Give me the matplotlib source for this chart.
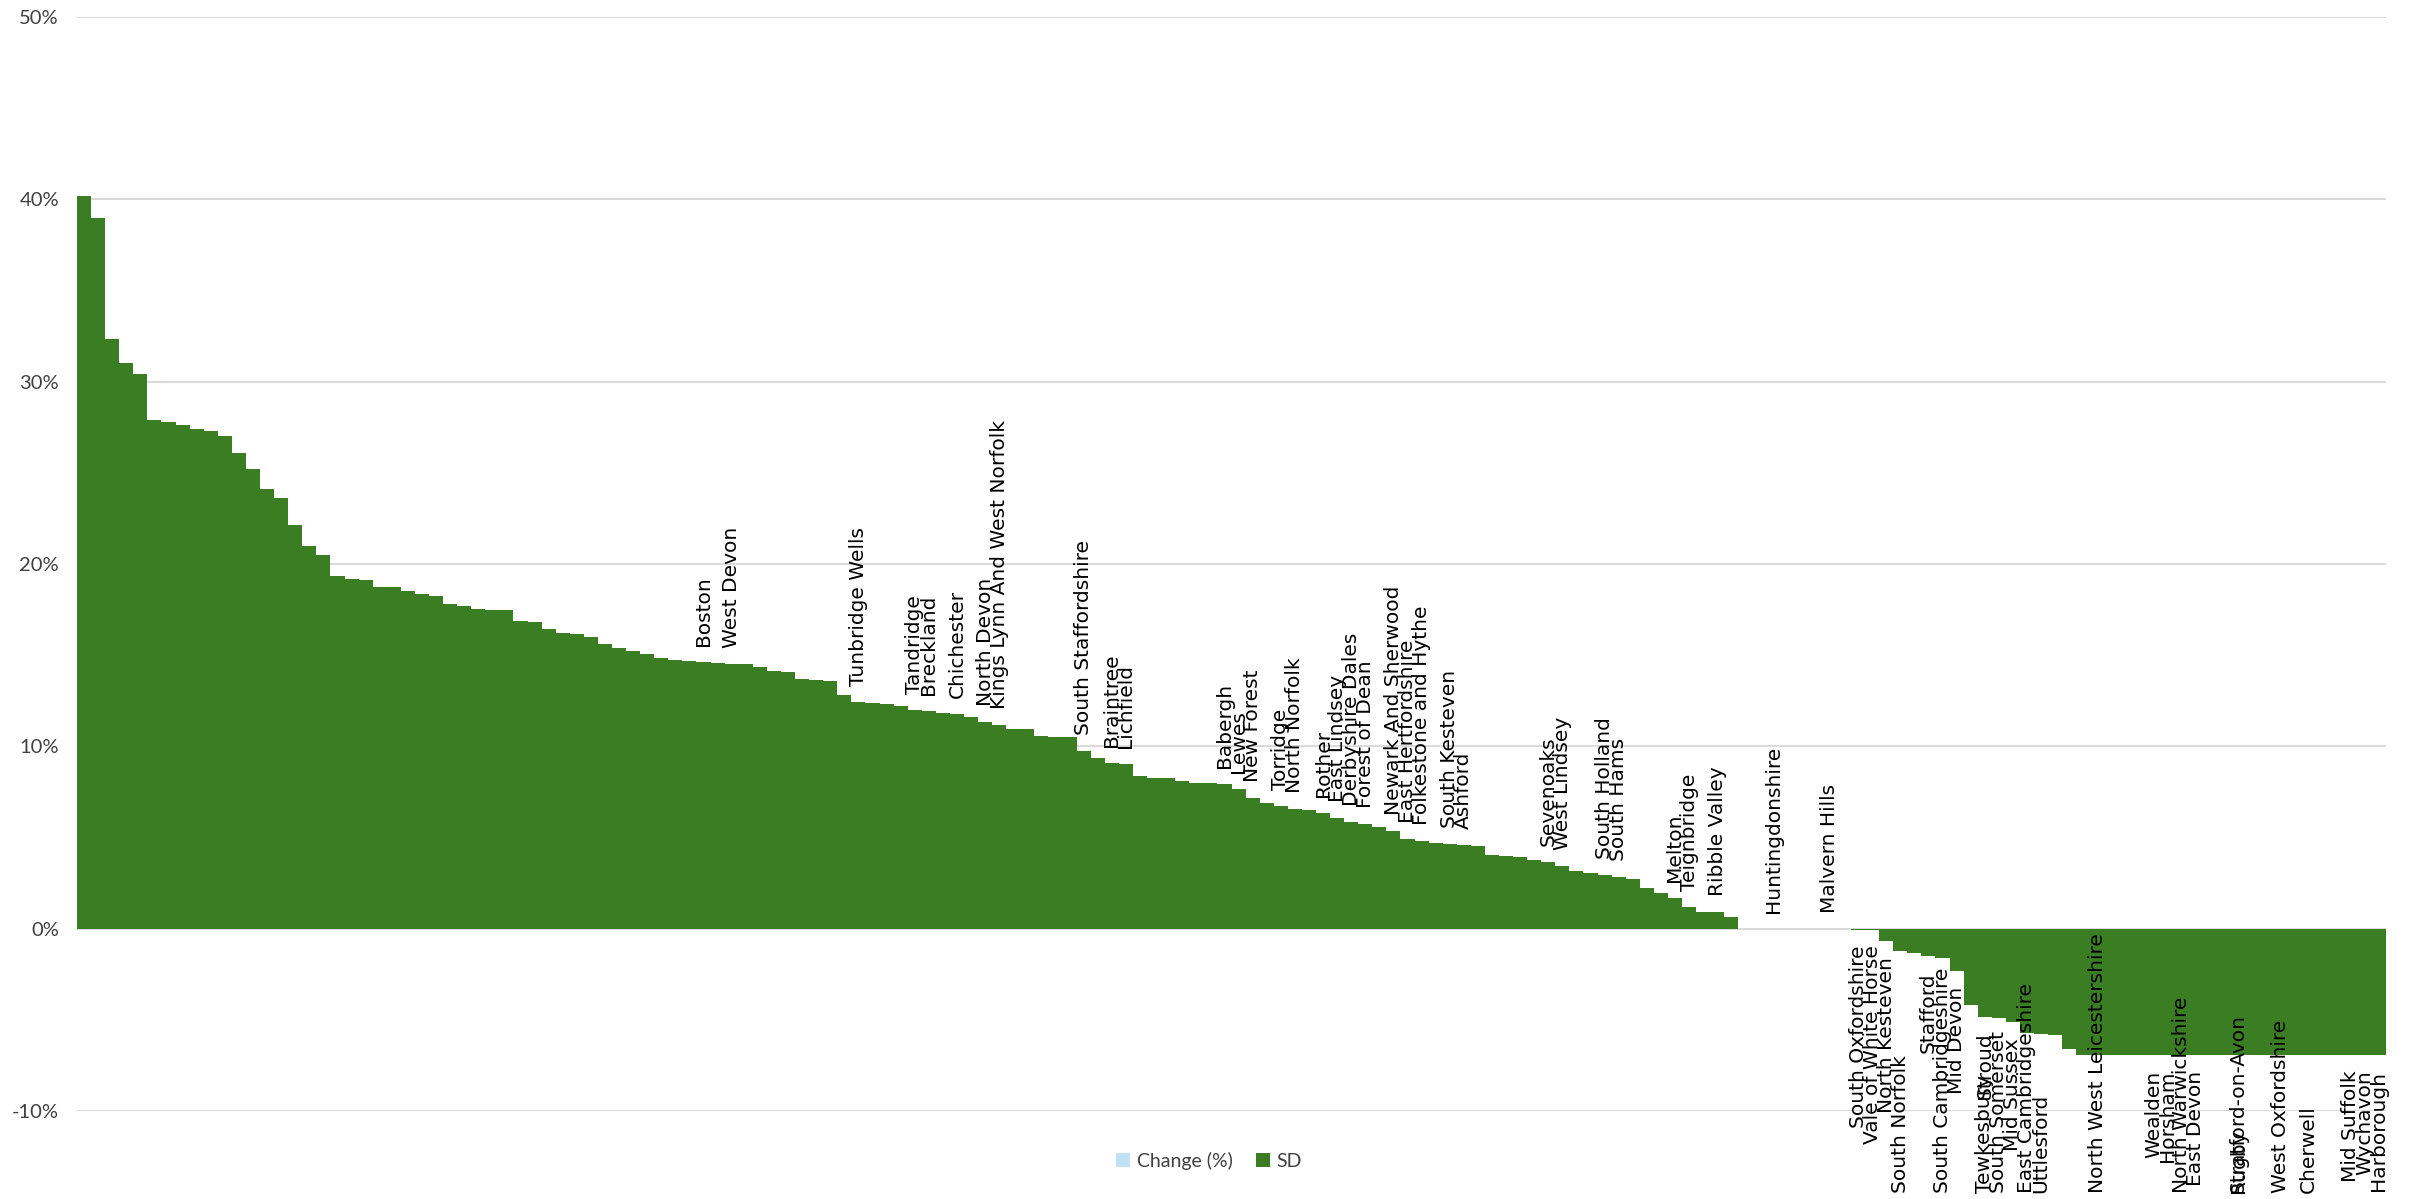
import matplotlib

matplotlib.use("Agg")
import matplotlib.pyplot as plt
import numpy as np
from matplotlib.patches import Patch
from matplotlib.transforms import IdentityTransform

# SD per district (percent), sorted from highest to lowest
sd_values = [
    40.2, 39.0, 32.35, 31.0, 30.4, 27.9, 27.8, 27.65, 27.4, 27.3,
    27.0, 26.1, 25.2, 24.1, 23.6, 22.15, 21.0, 20.5, 19.35, 19.2,
    19.1, 18.75, 18.72, 18.5, 18.37, 18.23, 17.8, 17.68, 17.52, 17.5,
    17.45, 16.85, 16.83, 16.46, 16.2, 16.14, 15.98, 15.6, 15.38, 15.22,
    15.06, 14.85, 14.72, 14.7, 14.62, 14.55, 14.53, 14.52, 14.35, 14.12,
    14.1, 13.67, 13.63, 13.6, 12.8, 12.42, 12.38, 12.34, 12.23, 12.02,
    11.92, 11.83, 11.8, 11.6, 11.32, 11.16, 10.97, 10.95, 10.55, 10.53,
    10.49, 9.72, 9.36, 9.07, 9.04, 8.38, 8.28, 8.26, 8.08, 8.0,
    7.98, 7.95, 7.65, 7.15, 6.87, 6.73, 6.55, 6.52, 6.36, 6.05,
    5.87, 5.75, 5.6, 5.38, 4.94, 4.82, 4.69, 4.64, 4.58, 4.56,
    4.03, 4.0, 3.93, 3.76, 3.63, 3.44, 3.17, 3.05, 2.97, 2.85,
    2.74, 2.24, 1.93, 1.68, 1.19, 0.93, 0.92, 0.63,
    0.0, 0.0, 0.0, 0.0, 0.0, 0.0, 0.0, 0.0,
    -0.05, -0.05, -0.68, -1.23, -1.35, -1.52, -1.62, -2.3, -4.2, -4.83,
    -4.88, -5.12, -5.74, -5.8, -5.85, -6.58,
    -6.91, -6.91, -6.91, -6.91, -6.91, -6.91, -6.91, -6.91, -6.91, -6.91,
    -6.91, -6.91, -6.91, -6.91, -6.91, -6.91, -6.91, -6.91, -6.91, -6.91,
    -6.91, -6.91,
]

# named districts and the bar each name belongs to
label_names = [
    "Boston", "West Devon", "Tunbridge Wells", "Tandridge", "Breckland",
    "Chichester", "North Devon", "Kings Lynn And West Norfolk",
    "South Staffordshire", "Braintree", "Lichfield", "Babergh", "Lewes",
    "New Forest", "Torridge", "North Norfolk", "Rother", "East Lindsey",
    "Derbyshire Dales", "Forest of Dean", "Newark And Sherwood",
    "East Hertfordshire", "Folkestone and Hythe", "South Kesteven", "Ashford",
    "Sevenoaks", "West Lindsey", "South Holland", "South Hams", "Melton",
    "Teignbridge", "Ribble Valley", "Huntingdonshire", "Malvern Hills",
    "South Oxfordshire", "Vale of White Horse", "North Kesteven",
    "South Norfolk", "Stafford", "South Cambridgeshire", "Mid Devon",
    "Tewkesbury", "Stroud", "South Somerset", "Mid Sussex",
    "East Cambridgeshire", "Uttlesford", "North West Leicestershire",
    "Wealden", "Horsham", "North Warwickshire", "East Devon", "Rugby",
    "Stratford-on-Avon", "West Oxfordshire", "Cherwell", "Mid Suffolk",
    "Wychavon", "Harborough",
]
label_bars = [
    44, 46, 55, 59, 60, 62, 64, 65, 71, 73, 74, 81, 82, 83, 85, 86, 88, 89,
    90, 91, 93, 94, 95, 97, 98, 104, 105, 108, 109, 113, 114, 116, 120, 124,
    126, 127, 128, 129, 131, 132, 133, 135, 135, 136, 137, 138, 139, 143,
    147, 148, 149, 150, 153, 153, 156, 158, 161, 162, 163,
]
# names that sit on the bottom edge of the chart
floor_labels = {
    "South Norfolk", "Tewkesbury", "South Somerset", "Uttlesford",
    "Cherwell", "Rugby",
}

GREEN = "#3b7d23"
LIGHT_BLUE = "#c0e2f4"
GRID = "#d9d9d9"
TICK_TEXT = "#404040"

W, H, DPI = 2418, 1199, 100
LABEL_GAP = 16  # px between bar end and its name
FLOOR = 6  # px kept free under the lowest names
NAME_SIZE = 14.5

fig = plt.figure(figsize=(W / DPI, H / DPI), dpi=DPI)
ax = fig.add_axes([77 / W, 1 - 1111 / H, (2386 - 77) / W, (1111 - 17) / H])

x = np.arange(len(sd_values))
ax.bar(x, sd_values, width=1.0, color=GREEN, linewidth=0, zorder=2)

ticks = list(range(-10, 51, 10))
ax.set_xlim(-0.5, len(sd_values) - 0.5)
ax.set_ylim(-10, 50)
ax.set_yticks(ticks)
ax.set_yticklabels([f"{t}%" for t in ticks], family="Lato")
ax.set_xticks([])
ax.yaxis.grid(True, color=GRID, linewidth=1.4)
ax.set_axisbelow(True)
for spine in ax.spines.values():
    spine.set_visible(False)
ax.tick_params(axis="y", length=0, pad=13, labelsize=14.5, labelcolor=TICK_TEXT)

fig.legend(
    handles=[
        Patch(facecolor=LIGHT_BLUE, label="Change (%)"),
        Patch(facecolor=GREEN, label="SD"),
    ],
    loc="center",
    bbox_to_anchor=(0.5, 1 - 1161 / H),
    ncol=2,
    frameon=False,
    prop={"family": "Lato", "size": 14},
    labelcolor=TICK_TEXT,
    handlelength=0.7,
    handleheight=0.7,
    handletextpad=0.35,
    columnspacing=1.2,
)

# district names, rotated, just beyond the end of their bar
fig.canvas.draw()
renderer = fig.canvas.get_renderer()
for name, i in zip(label_names, label_bars):
    v = sd_values[i]
    px, py = ax.transData.transform((i, v))
    if v >= 0:
        fig.text(px, py + LABEL_GAP, name, transform=IdentityTransform(),
                 rotation=90, ha="center", va="bottom", fontsize=NAME_SIZE,
                 family="DejaVu Sans", color="black")
        continue
    t = fig.text(px, py - LABEL_GAP, name, transform=IdentityTransform(),
                 rotation=90, ha="center", va="top", fontsize=NAME_SIZE,
                 family="DejaVu Sans", color="black")
    bb = t.get_window_extent(renderer)
    if name in floor_labels or bb.y0 < FLOOR:
        t.set_va("bottom")
        t.set_y(FLOOR)

fig.savefig("out.png", dpi=DPI)
